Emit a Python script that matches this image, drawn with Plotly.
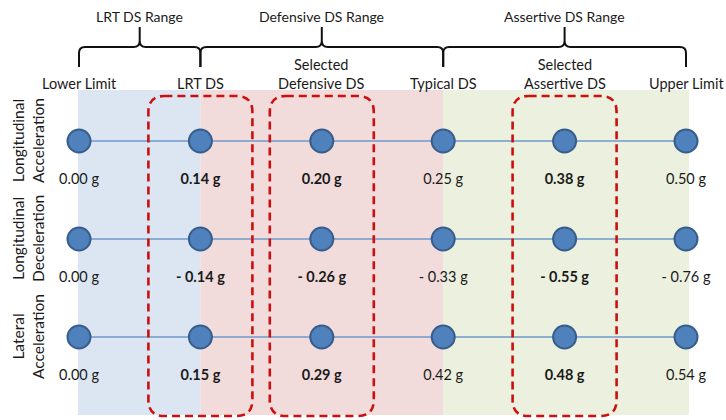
import plotly.graph_objects as go

# ---------------- data ----------------
columns = ["Lower Limit", "LRT DS", "Selected<br>Defensive DS", "Typical DS",
           "Selected<br>Assertive DS", "Upper Limit"]
measures = ["Longitudinal<br>Acceleration", "Longitudinal<br>Deceleration", "Lateral<br>Acceleration"]
long_acc = [0.00, 0.14, 0.20, 0.25, 0.38, 0.50]
long_dec = [0.00, -0.14, -0.26, -0.33, -0.55, -0.76]
lat_acc = [0.00, 0.15, 0.29, 0.42, 0.48, 0.54]
selected = [False, True, True, False, True, False]
range_names = ["LRT DS Range", "Defensive DS Range", "Assertive DS Range"]
range_start = [0, 1, 3]
range_end = [1, 3, 5]

series = [long_acc, long_dec, lat_acc]

# ---------------- geometry helpers ----------------
W, H = 726, 420
COL, X0 = 121.4, 79.0
ROW, Y0 = 98.0, 141.0


def px(col):
    return X0 + col * COL


def fx(p):
    return (p - X0) / COL


def fy(p):
    return (p - Y0) / ROW


def P(x, y):
    return f"{fx(x):.4f},{fy(y):.4f}"


def fmt(v):
    if v < 0:
        return f"- {abs(v):.2f} g"
    return f"{v:.2f} g"


FONT = "Lato"
TXT = "#1a1a1a"

fig = go.Figure()

# background bands
band_colors = ["#DCE6F2", "#F2DCDB", "#EBF1DE"]
shapes = []
for i in range(len(range_names)):
    x_left = px(range_start[i]) - (1 if i == 0 else 0)
    x_right = px(range_end[i]) + (3 if i == len(range_names) - 1 else 0)
    shapes.append(dict(type="rect", xref="x", yref="y", layer="below",
                       x0=fx(x_left), x1=fx(x_right), y0=fy(90), y1=fy(415),
                       fillcolor=band_colors[i], line=dict(width=0)))


# red dashed rounded boxes around selected columns
def rrect(x0, y0, x1, y1, r):
    return ("M " + P(x0 + r, y0) + " L " + P(x1 - r, y0) + " Q " + P(x1, y0) + " " + P(x1, y0 + r) +
            " L " + P(x1, y1 - r) + " Q " + P(x1, y1) + " " + P(x1 - r, y1) +
            " L " + P(x0 + r, y1) + " Q " + P(x0, y1) + " " + P(x0, y1 - r) +
            " L " + P(x0, y0 + r) + " Q " + P(x0, y0) + " " + P(x0 + r, y0) + " Z")


for c, sel in enumerate(selected):
    if sel:
        cx = px(c)
        shapes.append(dict(type="path", xref="x", yref="y", layer="above",
                           path=rrect(cx - 52, 96, cx + 52, 416, 16),
                           line=dict(color="#CC1010", width=2.6, dash="8px,5px")))


# curly braces above ranges
def brace(xa, xb, yh=47, ytip=27, yend=67, r=6):
    xm = (xa + xb) / 2
    return ("M " + P(xa, yend) + " L " + P(xa, yh + r) + " Q " + P(xa, yh) + " " + P(xa + r, yh) +
            " L " + P(xm - r, yh) + " Q " + P(xm, yh) + " " + P(xm, yh - r) + " L " + P(xm, ytip) +
            " M " + P(xm, yh - r) + " Q " + P(xm, yh) + " " + P(xm + r, yh) +
            " L " + P(xb - r, yh) + " Q " + P(xb, yh) + " " + P(xb, yh + r) + " L " + P(xb, yend))


annotations = []
for i, name in enumerate(range_names):
    xa, xb = px(range_start[i]), px(range_end[i])
    shapes.append(dict(type="path", xref="x", yref="y", layer="above",
                       path=brace(xa, xb), line=dict(color="#111111", width=2)))
    annotations.append(dict(x=fx((xa + xb) / 2), y=fy(16), xref="x", yref="y", text=name,
                            showarrow=False, font=dict(family=FONT, size=14, color=TXT),
                            xanchor="center", yanchor="middle"))

# column labels
for c, lab in enumerate(columns):
    annotations.append(dict(x=c, y=fy(94), xref="x", yref="y", text=lab, showarrow=False,
                            font=dict(family=FONT, size=14.5, color=TXT),
                            xanchor="center", yanchor="bottom"))

# row labels
for r, lab in enumerate(measures):
    annotations.append(dict(x=fx(28), y=r, xref="x", yref="y", text=lab, showarrow=False,
                            textangle=-90, font=dict(family=FONT, size=15.5, color=TXT),
                            xanchor="center", yanchor="middle"))

# lines + dots + value labels
cols = list(range(len(columns)))
for r, vals in enumerate(series):
    fig.add_trace(go.Scatter(
        x=cols, y=[r] * len(cols), mode="lines+markers",
        line=dict(color="#7199CB", width=1.6),
        marker=dict(size=23, color="#4F81BD", line=dict(color="#385D8A", width=2)),
        hoverinfo="skip"))
    texts = [f"<b>{fmt(v)}</b>" if s else fmt(v) for v, s in zip(vals, selected)]
    fig.add_trace(go.Scatter(
        x=cols, y=[r + 39 / ROW] * len(cols), mode="text", text=texts,
        textfont=dict(family=FONT, size=14.5, color=TXT), textposition="middle center",
        hoverinfo="skip"))

fig.update_layout(
    width=W, height=H, margin=dict(l=0, r=0, t=0, b=0),
    paper_bgcolor="white", plot_bgcolor="white", showlegend=False,
    xaxis=dict(range=[fx(0), fx(W)], visible=False, showgrid=False, zeroline=False),
    yaxis=dict(range=[fy(H), fy(0)], visible=False, showgrid=False, zeroline=False),
    shapes=shapes, annotations=annotations,
)

fig.write_html("out.html", config={"displayModeBar": False},
               post_script="document.body.style.margin='0';document.body.style.overflow='hidden';")
